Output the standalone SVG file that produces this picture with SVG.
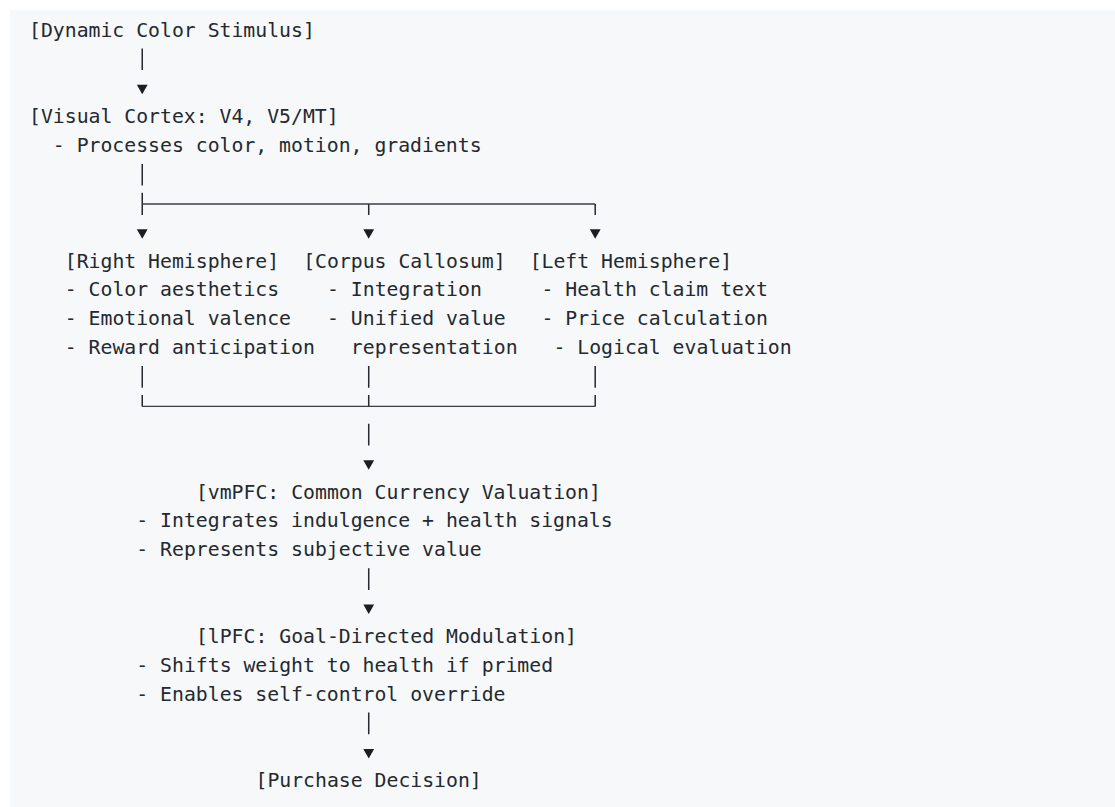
<svg xmlns="http://www.w3.org/2000/svg" width="1115" height="807" viewBox="0 0 1115 807">
<style>
.t{font-family:"DejaVu Sans Mono","Liberation Mono",monospace;font-size:19.8px;fill:#24292f}
.c{stroke:#24292f;stroke-width:1.5;fill:none}
.h{stroke:#3a3f45;stroke-width:1.3;fill:none}
.a{fill:#1a1d21}
</style>
<defs>
<polygon id="arr" points="-5.4,-9.5 5.4,-9.5 0,0" class="a"/>
</defs>
<rect x="10" y="10" width="1105" height="797" fill="#f6f8fa"/>
<g id="stimulus"><text class="t" x="29" y="36.5">[Dynamic Color Stimulus]</text></g>
<g id="visual-cortex">
<text class="t" x="29" y="123.14">[Visual Cortex: V4, V5/MT]</text>
<text class="t" x="52.84" y="152.02">- Processes color, motion, gradients</text>
</g>
<g id="right-hemisphere">
<text class="t" x="64.76" y="267.54">[Right Hemisphere]</text>
<text class="t" x="64.76" y="296.42">- Color aesthetics</text>
<text class="t" x="64.76" y="325.3">- Emotional valence</text>
<text class="t" x="64.76" y="354.18">- Reward anticipation</text>
</g>
<g id="corpus-callosum">
<text class="t" x="303.16" y="267.54">[Corpus Callosum]</text>
<text class="t" x="327" y="296.42">- Integration</text>
<text class="t" x="327" y="325.3">- Unified value</text>
<text class="t" x="350.84" y="354.18">representation</text>
</g>
<g id="left-hemisphere">
<text class="t" x="529.64" y="267.54">[Left Hemisphere]</text>
<text class="t" x="541.56" y="296.42">- Health claim text</text>
<text class="t" x="541.56" y="325.3">- Price calculation</text>
<text class="t" x="553.48" y="354.18">- Logical evaluation</text>
</g>
<g id="vmpfc">
<text class="t" x="195.88" y="498.58">[vmPFC: Common Currency Valuation]</text>
<text class="t" x="136.28" y="527.46">- Integrates indulgence + health signals</text>
<text class="t" x="136.28" y="556.34">- Represents subjective value</text>
</g>
<g id="lpfc">
<text class="t" x="195.88" y="642.98">[lPFC: Goal-Directed Modulation]</text>
<text class="t" x="136.28" y="671.86">- Shifts weight to health if primed</text>
<text class="t" x="136.28" y="700.74">- Enables self-control override</text>
</g>
<g id="decision"><text class="t" x="255.48" y="787.38">[Purchase Decision]</text></g>
<g id="connectors">
<path class="c" d="M142.24,48.4V70 M142.24,163.9V185.6 M142.24,192.7V215 M368.72,204V215 M595.2,204V215"/>
<path class="h" d="M142.24,204H595.2 M142.24,406.4H595.2"/>
<path class="c" d="M142.24,366V387.8 M368.72,366V387.8 M595.2,366V387.8 M142.24,395V406.4 M368.72,395V406.4 M595.2,395V406.4 M368.72,423.8V445.5 M368.72,568.2V589.9 M368.72,712.6V734.3"/>
<use href="#arr" x="142.24" y="94.26"/>
<use href="#arr" x="142.24" y="238.66"/>
<use href="#arr" x="368.72" y="238.66"/>
<use href="#arr" x="595.2" y="238.66"/>
<use href="#arr" x="368.72" y="469.7"/>
<use href="#arr" x="368.72" y="614.1"/>
<use href="#arr" x="368.72" y="758.5"/>
</g>
</svg>
